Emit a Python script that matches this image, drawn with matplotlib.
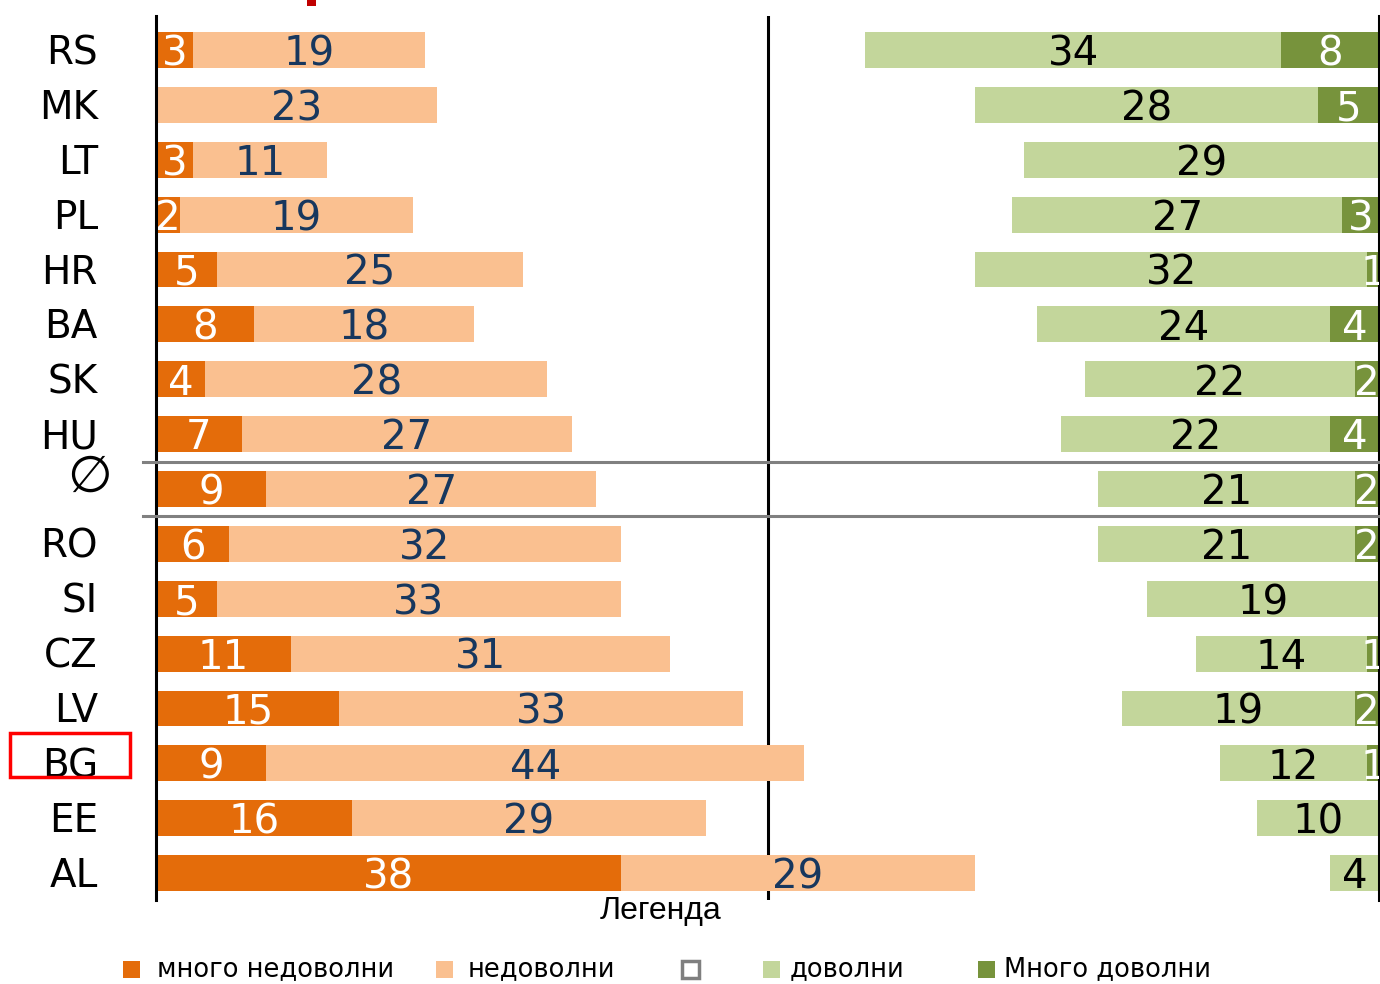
import numpy as np
import matplotlib
matplotlib.use("Agg")
import matplotlib.pyplot as plt
from matplotlib.patches import Rectangle

# survey shares in %, rows top to bottom
countries = ["RS", "MK", "LT", "PL", "HR", "BA", "SK", "HU", "\u2205",
             "RO", "SI", "CZ", "LV", "BG", "EE", "AL"]
very_dissatisfied = [3, 0, 3, 2, 5, 8, 4, 7, 9, 6, 5, 11, 15, 9, 16, 38]
dissatisfied = [19, 23, 11, 19, 25, 18, 28, 27, 27, 32, 33, 31, 33, 44, 29, 29]
satisfied = [34, 28, 29, 27, 32, 24, 22, 22, 21, 21, 19, 14, 19, 12, 10, 4]
very_satisfied = [8, 5, 0, 3, 1, 4, 2, 4, 2, 2, 0, 1, 2, 1, 0, 0]

legend_labels = ["много недоволни", "недоволни", "", "доволни", "Много доволни"]

C_VD = "#E46C0A"
C_D = "#FAC090"
C_S = "#C3D69B"
C_VS = "#77933C"
NAVY = "#17375E"

W, H = 1380, 984
fig = plt.figure(figsize=(W / 100, H / 100), dpi=100)
ax = fig.add_axes([156 / W, 1 - 900 / H, (1379 - 156) / W, (900 - 16) / H])

vd = np.array(very_dissatisfied)
d = np.array(dissatisfied)
s = np.array(satisfied)
vs = np.array(very_satisfied)
y = np.arange(len(countries))
bh = 0.655

ax.barh(y, vd, height=bh, color=C_VD, zorder=2)
ax.barh(y, d, left=vd, height=bh, color=C_D, zorder=2)
ax.barh(y, s, left=100 - s - vs, height=bh, color=C_S, zorder=2)
ax.barh(y, vs, left=100 - vs, height=bh, color=C_VS, zorder=2)

ax.axvline(50, color="black", lw=2.2, zorder=1)

def seg_labels(values, lefts, color):
    for i, (v, l) in enumerate(zip(values, lefts)):
        if v <= 0:
            continue
        ax.text(l + v / 2, i + 0.28, str(v), ha="center", va="baseline",
                fontsize=29, color=color, clip_on=True, zorder=4)

seg_labels(vd, np.zeros(len(vd)), "white")
seg_labels(d, vd, NAVY)
seg_labels(s, 100 - s - vs, "black")
seg_labels(vs, 100 - vs, "white")

for i, c in enumerate(countries):
    if c == "\u2205":
        ax.text(-5.45, i - 0.2, c, ha="center", va="center", fontsize=37)
    else:
        ax.text(-4.75, i + 0.255, c, ha="right", va="baseline", fontsize=28)

# separators around the average row
for yy in (7.5, 8.5):
    ax.plot([-1.06, 100], [yy, yy], color="#808080", lw=2.2,
            clip_on=False, zorder=3)

ax.set_xlim(0, 100)
ax.set_ylim(15.49, -0.62)
ax.set_xticks([])
ax.set_yticks([])
for side in ("top", "bottom"):
    ax.spines[side].set_visible(False)
for side in ("left", "right"):
    ax.spines[side].set_linewidth(2.2)
    ax.spines[side].set_color("black")

def fig_rect(x0, y0, x1, y1, **kw):
    fig.add_artist(Rectangle((x0 / W, 1 - y1 / H), (x1 - x0) / W, (y1 - y0) / H,
                             transform=fig.transFigure, **kw))

fig.text(661 / W, 1 - 919 / H, "Легенда", ha="center", va="baseline",
         fontsize=23, family=["Liberation Sans", "DejaVu Sans"])

# legend
sq = [(123, C_VD, "none"), (436, C_D, "none"), (682, "none", "#7F7F7F"),
      (763, C_S, "none"), (978, C_VS, "none")]
text_x = [157, 468, None, 790, 1004]
for (x0, fc, ec), tx, lab in zip(sq, text_x, legend_labels):
    fig_rect(x0, 961, x0 + 17, 978, facecolor=fc, edgecolor=ec,
             lw=2.5 if ec != "none" else 0)
    if tx is not None:
        fig.text(tx / W, 1 - 969 / H, lab, ha="left", va="center",
                 fontsize=18.5)

# highlight box around BG
fig_rect(10, 733, 130, 777, facecolor="none", edgecolor="red", lw=2.5)
# cut-off red mark at the top
fig_rect(307, 0, 316, 6, facecolor="#C00000", edgecolor="none")

fig.savefig("out.png", dpi=100)
